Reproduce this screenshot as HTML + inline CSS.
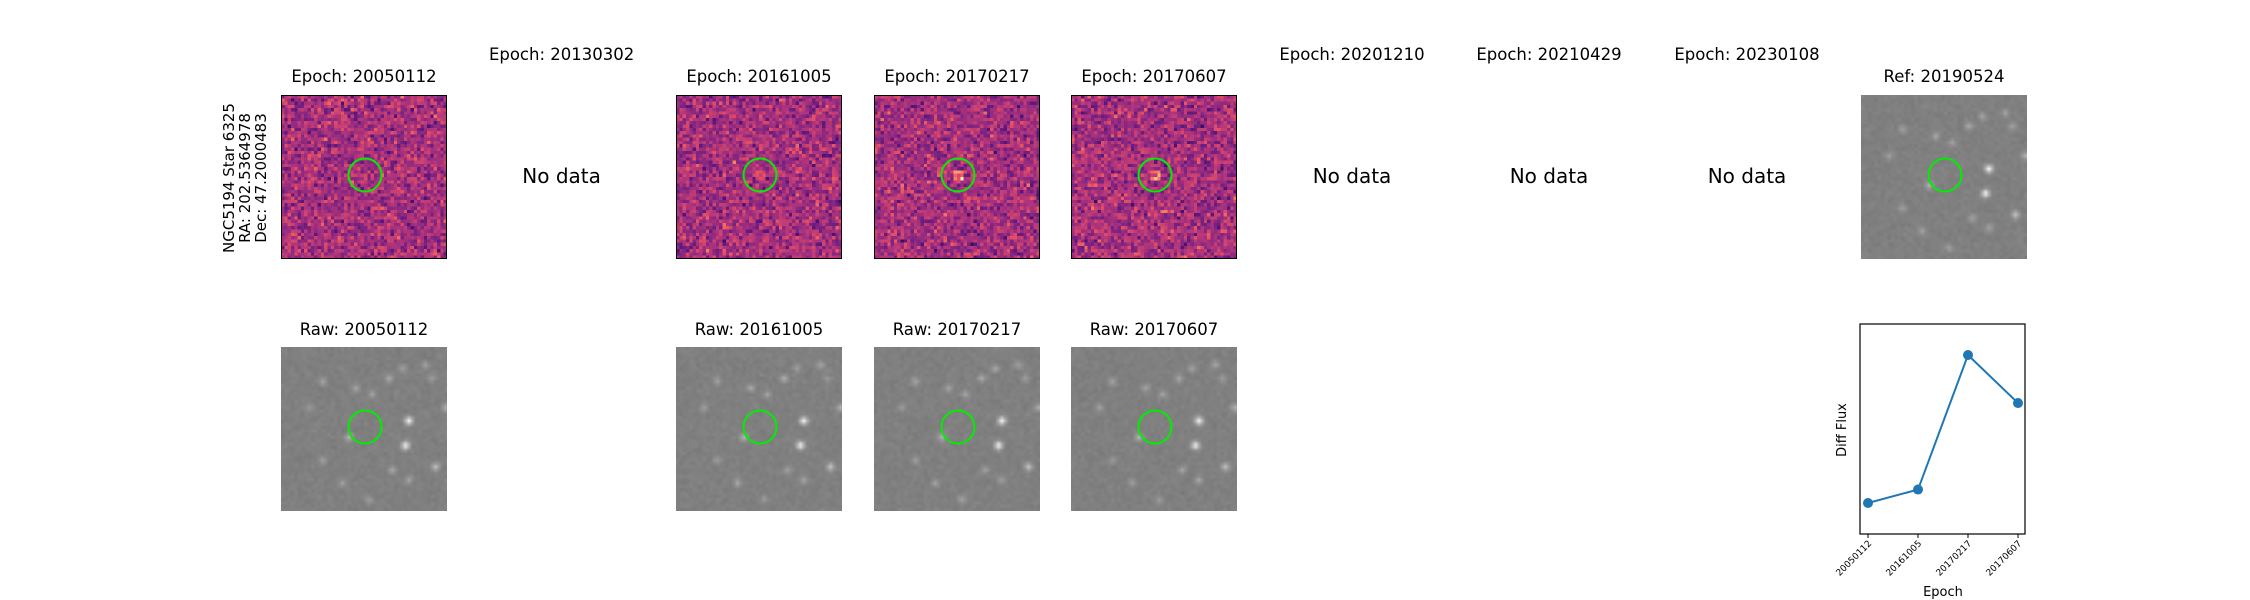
<!DOCTYPE html>
<html><head><meta charset="utf-8"><style>
body{margin:0;background:#fff;width:2250px;height:600px;position:relative;overflow:hidden;font-family:"DejaVu Sans","Liberation Sans",sans-serif;}
.t{position:absolute;font-size:16.5px;color:#000;white-space:nowrap;transform:translateX(-50%);}
.nd{position:absolute;font-size:20px;transform:translate(-50%,-50%);white-space:nowrap;}
canvas{position:absolute;}
.bx{position:absolute;box-sizing:border-box;border:1.5px solid #000;}
svg{position:absolute;left:0;top:0;}
</style></head><body>
<div id="root"></div>
<svg id="ov" width="2250" height="600"></svg>
<script>
const root=document.getElementById('root');
const cols=[281,478.6,676,874,1071,1269,1466,1664,1861];
const epochs=['20050112','20130302','20161005','20170217','20170607','20201210','20210429','20230108'];
const hasData=[true,false,true,true,true,false,false,false];
const fluxEpochs=['20050112','20161005','20170217','20170607'];
const fluxValues=[0.08,0.15,0.85,0.6];
let seed=7;function rnd(){seed=(seed*16807)%2147483647;return seed/2147483647;}
function gauss(){return (rnd()+rnd()+rnd()+rnd()-2)*0.9;}
const magma=[[0,0,4],[28,16,68],[79,18,123],[129,37,129],[181,54,122],[229,80,100],[251,135,97],[254,194,135],[252,253,191]];
function cmap(v){v=Math.max(0,Math.min(1,v));const p=v*(magma.length-1),i=Math.min(magma.length-2,Math.floor(p)),f=p-i;return magma[i].map((c,k)=>Math.round(c+(magma[i+1][k]-c)*f));}
const N=50;
const stars=[[38,22,1],[37,29.5,1],[46,36,0.55],[49,18,0.4],[20,27,0.45],[22,12,0.35],[32,9,0.35],[36,6,0.3],[12,10,0.3],[27,14,0.3],[8,18,0.25],[18,41,0.3],[33,37,0.3],[38,40,0.3],[43,5,0.3],[26,46,0.25],[12,34,0.25],[45,9,0.25]];
function div(cls,x,y,txt,name){const d=document.createElement('div');d.className=cls;d.style.left=x+'px';d.style.top=y+'px';d.textContent=txt;


root.appendChild(d);return d;}
function diffImg(x,y,name,bright){const c=document.createElement('canvas');c.width=N;c.height=N;c.style.left=x+'px';c.style.top=y+'px';c.style.width='166px';c.style.height='164px';c.style.imageRendering='pixelated';


const g=c.getContext('2d');const im=g.createImageData(N,N);
for(let j=0;j<N;j++)for(let i=0;i<N;i++){let v=0.46+gauss()*0.17;const dx=i-25,dy=j-24;if(dx*dx+dy*dy<3)v+=bright;const col=cmap(v);const o=(j*N+i)*4;im.data[o]=col[0];im.data[o+1]=col[1];im.data[o+2]=col[2];im.data[o+3]=255;}
g.putImageData(im,0,0);root.appendChild(c);
const b=document.createElement('div');b.className='bx';b.style.left=x+'px';b.style.top=y+'px';b.style.width='166px';b.style.height='164px';


root.appendChild(b);}
function rawImg(x,y,name){const c=document.createElement('canvas');c.width=N;c.height=N;c.style.left=x+'px';c.style.top=y+'px';c.style.width='166px';c.style.height='164px';


const g=c.getContext('2d');const im=g.createImageData(N,N);
for(let j=0;j<N;j++)for(let i=0;i<N;i++){let v=128+gauss()*6;for(const s of stars){const d2=(i-s[0])**2+(j-s[1])**2;v+=s[2]*120*Math.exp(-d2/1.3);}v=Math.min(255,v);const o=(j*N+i)*4;im.data[o]=im.data[o+1]=im.data[o+2]=v;im.data[o+3]=255;}
g.putImageData(im,0,0);root.appendChild(c);}
const ov=document.getElementById('ov');const NS='http://www.w3.org/2000/svg';
function circ(cx,cy,name){const e=document.createElementNS(NS,'circle');e.setAttribute('cx',cx);e.setAttribute('cy',cy);e.setAttribute('r',16.5);e.setAttribute('fill','none');e.setAttribute('stroke','#00ee00');e.setAttribute('stroke-width',2);


ov.appendChild(e);}
const brights=[0.05,0,0.15,0.3,0.25];
epochs.forEach((ep,k)=>{const x=cols[k];
 if(hasData[k]){div('t',x+83,67,'Epoch: '+ep,'epoch-title-'+ep);diffImg(x,95,'diff-image-'+ep,brights[k]||0.2);circ(x+84,175,'aperture-diff-'+ep);
  div('t',x+83,320,'Raw: '+ep,'raw-title-'+ep);rawImg(x,347,'raw-image-'+ep);circ(x+84,427,'aperture-raw-'+ep);}
 else{div('t',x+83,45,'Epoch: '+ep,'epoch-title-'+ep);div('nd',x+83,176,'No data','no-data-'+ep);}
});
div('t',1944,67,'Ref: 20190524','ref-title');rawImg(1861,95,'ref-image');circ(1945,175,'aperture-ref');
const lab=document.createElement('div');lab.style.cssText='position:absolute;left:245px;top:178px;transform:translate(-50%,-50%) rotate(-90deg);font-size:15px;line-height:16px;text-align:center;white-space:nowrap;';
lab.innerHTML='NGC5194 Star 6325<br>RA: 202.5364978<br>Dec: 47.2000483';


root.appendChild(lab);
const X0=1860,Y0=324,W=165,H=210;
const xs=i=>1868+i*(2018-1868)/(fluxEpochs.length-1);
const ys=v=>503-(v-0.08)/(0.85-0.08)*(503-355);
let s='<rect x="'+X0+'" y="'+Y0+'" width="'+W+'" height="'+H+'" fill="none" stroke="#000" stroke-width="1.2"/>';
s+='<polyline fill="none" stroke="#1f77b4" stroke-width="2" points="'+fluxValues.map((v,i)=>xs(i)+','+ys(v)).join(' ')+'"/>';
fluxValues.forEach((v,i)=>{s+='<circle cx="'+xs(i)+'" cy="'+ys(v)+'" r="5" fill="#1f77b4"/>';
 s+='<line x1="'+xs(i)+'" x2="'+xs(i)+'" y1="'+(Y0+H)+'" y2="'+(Y0+H+4)+'" stroke="#000"/>';
 s+='<text font-size="9" font-family="DejaVu Sans,sans-serif" fill="#000" text-anchor="end" transform="translate('+(xs(i)+4)+','+(Y0+H+10)+') rotate(-45)">'+fluxEpochs[i]+'</text>';});
s+='<text font-size="13" font-family="DejaVu Sans,sans-serif" text-anchor="middle" transform="translate(1846,430) rotate(-90)">Diff Flux</text>';
s+='<text font-size="13" font-family="DejaVu Sans,sans-serif" text-anchor="middle" x="1943" y="596">Epoch</text>';
ov.insertAdjacentHTML('beforeend',s);
</script>
</body></html>
